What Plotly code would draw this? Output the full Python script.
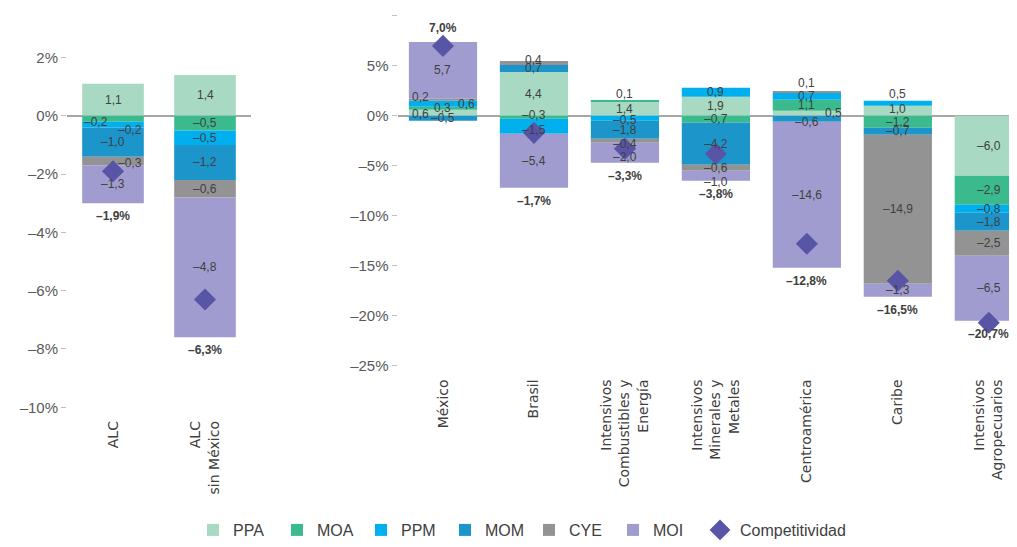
import plotly.graph_objects as go

# categories: first two go in the left panel, the rest in the right one
cats_left = ["ALC", "ALC<br>sin México"]
cats_right = ["México", "Brasil", "Intensivos<br>Combustibles y<br>Energía",
              "Intensivos<br>Minerales y<br>Metales", "Centroamérica", "Caribe",
              "Intensivos<br>Agropecuarios"]
cats = cats_left + cats_right

ppa = [1.1, 1.4, 0.6, 4.4, 1.4, 1.9, 0.5, 1.0, -6.0]
moa = [-0.2, -0.5, 0.3, -0.3, 0.1, -0.7, 1.1, -1.2, -2.9]
ppm = [-0.2, -0.5, 0.6, -1.5, -0.5, 0.9, 0.7, 0.5, -0.8]
mom = [-1.0, -1.2, -0.5, 0.7, -1.8, -4.2, -0.6, -0.7, -1.8]
cye = [-0.3, -0.6, 0.2, 0.4, -0.4, -0.6, 0.1, -14.9, -2.5]
moi = [-1.3, -4.8, 5.7, -5.4, -2.0, -1.0, -14.6, -1.3, -6.5]
comp = [-1.9, -6.3, 7.0, -1.7, -3.3, -3.8, -12.8, -16.5, -20.7]

series = [("PPA", ppa, "#a8dac3"), ("MOA", moa, "#3bba8e"), ("PPM", ppm, "#00b0ee"),
          ("MOM", mom, "#1c95cb"), ("CYE", cye, "#939393"), ("MOI", moi, "#a19ccf")]

left_ticks = [2, 0, -2, -4, -6, -8, -10]
right_ticks = [10, 5, 0, -5, -10, -15, -20, -25]

# nudges for crowded labels (category index, series) -> (xshift, yshift)
nudge = {
    (0, "MOA"): (-17, -3), (0, "PPM"): (17, -5), (0, "CYE"): (17, -2),
    (2, "PPA"): (-22, -1), (2, "PPM"): (24, 0), (2, "CYE"): (-22, 3),
    (3, "CYE"): (0, 3), (3, "MOA"): (0, 2), (3, "PPM"): (0, -4),
    (4, "MOA"): (0, 7), (4, "PPM"): (0, -2), (4, "CYE"): (0, -3), (4, "MOI"): (0, -4),
    (5, "MOI"): (0, -6),
    (6, "CYE"): (0, 9), (6, "PPA"): (27, 0), (6, "MOM"): (0, -3),
    (7, "PPM"): (0, 9), (7, "PPA"): (0, 2),
}

# the page body has an 8px margin, so the figure starts at (8, 8)
W, H, OFF = 1009, 539, 8


def px_x(p):
    return (p - OFF) / W


def px_y(p):
    return 1 - (p - OFF) / H


def fmt(v):
    return f"{v:.1f}".replace(".", ",").replace("-", "–")


fig = go.Figure()

for name, vals, color in series:
    fig.add_trace(go.Bar(x=cats_left, y=vals[:2], name=name, marker_color=color,
                         width=0.67, legendgroup=name, xaxis="x", yaxis="y",
                         marker_line_width=0))
    fig.add_trace(go.Bar(x=cats_right, y=vals[2:], name=name, marker_color=color,
                         width=0.75, legendgroup=name, showlegend=False,
                         xaxis="x2", yaxis="y2", marker_line_width=0))

fig.add_trace(go.Scatter(x=cats_left, y=comp[:2], mode="markers", name="Competitividad",
                         marker=dict(symbol="diamond", size=17, color="#5854a6"),
                         legendgroup="comp", legend="legend2", xaxis="x", yaxis="y"))
fig.add_trace(go.Scatter(x=cats_right, y=comp[2:], mode="markers", name="Competitividad",
                         marker=dict(symbol="diamond", size=17, color="#5854a6"),
                         legendgroup="comp", legend="legend2", showlegend=False,
                         xaxis="x2", yaxis="y2"))

# segment labels and totals
for i, cat in enumerate(cats):
    ax = "x" if i < 2 else "x2"
    ay = "y" if i < 2 else "y2"
    pos, neg = 0.0, 0.0
    for name, vals, color in series:
        v = vals[i]
        if v >= 0:
            mid = pos + v / 2
            pos += v
        else:
            mid = neg + v / 2
            neg += v
        dx, dy = nudge.get((i, name), (0, 0))
        fig.add_annotation(x=cat, y=mid, xref=ax, yref=ay, text=fmt(v), showarrow=False,
                           xshift=dx, yshift=dy, font=dict(size=12, color="#404040"))
    if comp[i] > 0:
        fig.add_annotation(x=cat, y=pos, xref=ax, yref=ay, text=fmt(comp[i]) + "%",
                           showarrow=False, yshift=14,
                           font=dict(size=12, color="#404040", weight="bold"))
    else:
        fig.add_annotation(x=cat, y=neg, xref=ax, yref=ay, text=fmt(comp[i]) + "%",
                           showarrow=False, yshift=-13,
                           font=dict(size=12, color="#404040", weight="bold"))

yax = dict(showgrid=False, zeroline=True, zerolinecolor="#a6a6a6", zerolinewidth=1.5,
           ticks="outside", ticklen=5, tickcolor="#bfbfbf", showline=False,
           tickfont=dict(size=15, color="#595959"), automargin=False)
xax = dict(showgrid=False, zeroline=False, showline=False, tickangle=-90,
           tickfont=dict(size=14, color="#404040", family="DejaVu Sans"),
           automargin=False, ticks="", ticklabelstandoff=10)

leg = dict(orientation="h", yanchor="middle", xanchor="left", y=px_y(535),
           font=dict(size=16, color="#404040"), itemwidth=30, bgcolor="rgba(0,0,0,0)")

fig.update_layout(
    width=W, height=H,
    margin=dict(l=0, r=0, t=0, b=0),
    paper_bgcolor="white", plot_bgcolor="white",
    barmode="relative",
    font=dict(family="Liberation Sans, Arial, sans-serif", color="#404040"),
    xaxis=dict(xax, domain=[px_x(67), px_x(251)], anchor="y"),
    yaxis=dict(yax, domain=[px_y(411), px_y(58)], range=[-10, 2], anchor="x",
               tickvals=left_ticks, ticktext=[fmt(t)[:-2] + "%" for t in left_ticks]),
    xaxis2=dict(xax, domain=[px_x(397.5), 1.0], range=[-0.5, 6.31], anchor="y2"),
    yaxis2=dict(yax, domain=[px_y(369), px_y(16)], range=[-25, 10], anchor="x2",
                tickvals=right_ticks, ticktext=[fmt(t)[:-2] + "%" for t in right_ticks]),
    legend=dict(leg, x=px_x(193), traceorder="normal", entrywidth=39, entrywidthmode="pixels"),
    legend2=dict(leg, x=px_x(700)),
    showlegend=True,
)

fig.write_html("out.html")
